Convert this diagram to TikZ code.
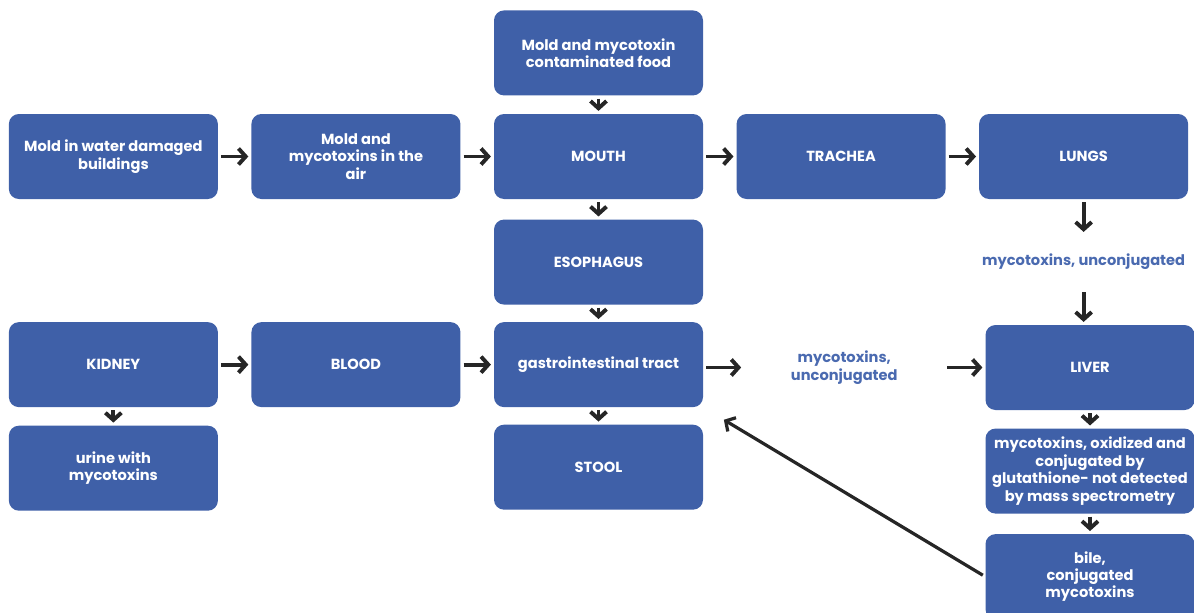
\documentclass[tikz,border=0pt]{standalone}
\usepackage{fontspec}
\setmainfont{Poppins}
\usepackage{tikz}
\usetikzlibrary{arrows.meta, positioning, calc}
\definecolor{boxblue}{HTML}{3F60A8}
\definecolor{lblblue}{HTML}{4A6AB0}

\begin{document}
\begin{tikzpicture}[
          font=\bfseries\fontsize{10.4}{12.4}\selectfont,
          box/.style={fill=boxblue, text=white, rounded corners=0.25cm, align=center,
                      minimum width=5.225cm, minimum height=2.125cm, inner sep=2pt},
          lbl/.style={text=lblblue, align=center, minimum width=5cm, inner sep=0pt},
          arr/.style={-{Straight Barb[length=1.8mm, width=4mm]}, line width=2.8pt,
                      black!85, shorten >=2pt, shorten <=2pt},
          node distance=0.825cm
        ]
        \useasboundingbox (0,0) rectangle (29.85,-15.3);
        \begin{scope}
        \clip (0,0) rectangle (29.85,-15.3);
        % top row
        \node[box] (mouth) at (14.9625,-3.9125) {MOUTH};
        \node[box, above=0.45cm of mouth] (food) {Mold and mycotoxin\\contaminated food};
        \node[box, left=of mouth] (air) {Mold and\\mycotoxins in the\\air};
        \node[box, left=of air] (build) {Mold in water damaged\\buildings};
        \node[box, right=of mouth] (trachea) {TRACHEA};
        \node[box, right=of trachea] (lungs) {LUNGS};
        % middle column
        \node[box, below=0.5cm of mouth] (esoph) {ESOPHAGUS};
        \node[box, below=0.425cm of esoph] (gi) {gastrointestinal tract};
        \node[box, below=0.425cm of gi] (stool) {STOOL};
        \node[box, left=of gi] (blood) {BLOOD};
        \node[box, left=of blood] (kidney) {KIDNEY};
        \node[box, below=0.45cm of kidney] (urine) {urine with\\mycotoxins};
        % right column
        \node[box] (liver) at (27.25,-9.1875) {LIVER};
        \node[box, below=0.45cm of liver] (oxid)
          {mycotoxins, oxidized and\\conjugated by\\glutathione- not detected\\by mass spectrometry};
        \node[box, below=0.5cm of oxid] (bile) {bile,\\conjugated\\mycotoxins};
        \node[lbl, minimum height=1.35cm] (lunglbl) at ($(lungs.south)!0.5!(lungs.south |- liver.north)$) {mycotoxins, unconjugated};
        \node[lbl] (gilbl) at ($(gi.east |- liver)!0.5!(liver.west)$) {mycotoxins,\\unconjugated};
        \end{scope}

        \draw[arr] (food) -- (mouth);
        \draw[arr] (build) -- (air);
        \draw[arr] (air) -- (mouth);
        \draw[arr] (mouth) -- (trachea);
        \draw[arr] (trachea) -- (lungs);
        \draw[arr] (mouth) -- (esoph);
        \draw[arr] (esoph) -- (gi);
        \draw[arr] (gi) -- (stool);
        \draw[arr] (kidney) -- (blood);
        \draw[arr] (blood) -- (gi);
        \draw[arr] (kidney) -- (urine);
        \draw[arr] (lungs) -- (lunglbl);
        \draw[arr] (lunglbl) -- (lungs.south |- liver.north);
        \draw[arr] (gi.east |- gilbl) -- (gilbl);
        \draw[arr] (gilbl) -- (liver);
        \draw[arr] (liver) -- (oxid);
        \draw[arr] (oxid) -- (bile);
        \draw[arr, line width=2.3pt, shorten >=0.6cm] (bile.west) -- (gi.south east);
      \end{tikzpicture}
\end{document}
